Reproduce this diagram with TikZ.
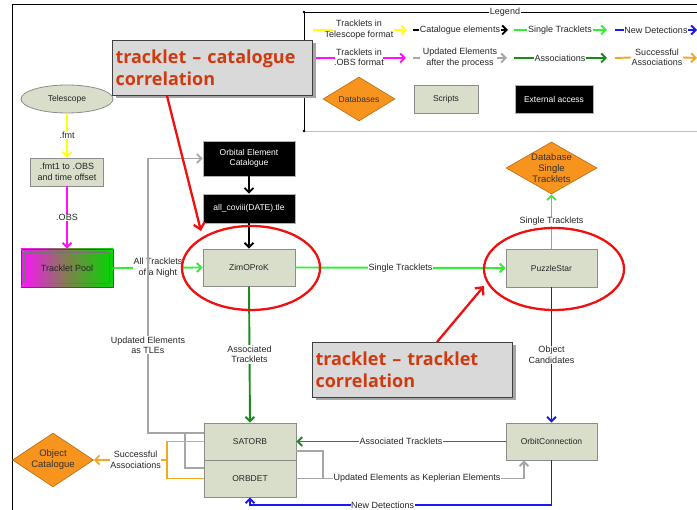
\documentclass[tikz,border=0pt]{standalone}
\usepackage{fontspec}
\setmainfont{Liberation Sans}
\newfontfamily\calloutfont{Open Sans}
\usetikzlibrary{arrows.meta,shapes.geometric,shadows}

\definecolor{nodefill}{HTML}{D9DECB}
\definecolor{nodeedge}{HTML}{8C8C8C}
\definecolor{ylw}{HTML}{FFFF10}
\definecolor{mgt}{HTML}{FF10FF}
\definecolor{lgrn}{HTML}{33EE33}
\definecolor{dgrn}{HTML}{1A8C1A}
\definecolor{blu}{HTML}{1A1AF0}
\definecolor{gry}{HTML}{A6A6A6}
\definecolor{orng}{HTML}{F5A623}
\definecolor{dbfill}{HTML}{F7941D}
\definecolor{dbedge}{HTML}{B86A10}
\definecolor{callred}{HTML}{CF3A10}
\definecolor{callfill}{HTML}{D9D9D9}
\definecolor{hlred}{HTML}{F01010}

\tikzset{
  lblfont/.style={font=\fontsize{9}{10.5}\selectfont},
  proc/.style={rectangle, draw=nodeedge, fill=nodefill, line width=0.8pt,
    minimum width=92pt, minimum height=37pt, inner sep=1pt, align=center,
    text=black!85, font=\fontsize{8.5}{10.5}\selectfont},
  blackbox/.style={rectangle, draw=gray!60, fill=black, text=white, line width=0.6pt,
    minimum width=92pt, inner sep=1pt, align=center, font=\fontsize{8.5}{10.5}\selectfont},
  dbase/.style={diamond, draw=dbedge, fill=dbfill, line width=0.6pt, inner sep=0pt},
  dbtext/.style={align=center, text=black!80, font=\fontsize{9.5}{11}\selectfont},
  lbl/.style={fill=white, inner sep=0.6pt, align=center, text=black!85, lblfont},
  lgtxt/.style={inner sep=0.5pt, align=center, text=black!85, lblfont},
  con/.style={line width=1.9pt},
  tip/.style={-{Straight Barb[length=4.5pt,width=9pt]}},
  callout/.style={rectangle, draw=black!75, fill=callfill, line width=1pt,
    drop shadow={shadow xshift=3pt, shadow yshift=-3pt, fill=gray!70, opacity=1},
    anchor=north west, text width=194pt, minimum height=55pt, inner sep=3pt,
    align=left, text=callred,
    font=\calloutfont\bfseries\fontsize{18}{22}\selectfont},
  redmark/.style={draw=hlred, line width=2.3pt},
  redarr/.style={draw=hlred, line width=2.3pt, -{Straight Barb[length=6pt,width=11pt]}},
}

\begin{document}
\begin{tikzpicture}[x=1pt,y=-1pt]
\useasboundingbox (0,0) rectangle (697,510);

% outer frame
\draw[black, line width=0.8pt] (12,510) -- (12,4) -- (697,4);

% ---------------- legend ----------------
\coordinate (lgA) at (304,131);
\coordinate (lgB) at (304,12);
\coordinate (lgC) at (697,12);
\coordinate (lgD) at (697,131);
\draw[black, line width=0.6pt] (lgA) -- (lgB) -- (lgC);
\draw[gray!50, line width=0.6pt] (lgA) -- (lgD);
\fill (lgA) circle (1.4pt);
\fill (lgB) circle (1.4pt);
\node[lgtxt, fill=white, inner sep=1pt] (lgtitle) at (505,12) {Legend};

% row 1
\node[lgtxt] (ly) at (359,29.5) {Tracklets in\\Telescope format};
\coordinate (ly1) at (313,30); \coordinate (ly2) at (333,30);
\coordinate (ly3) at (394,30); \coordinate (ly4) at (407,30);
\draw[con, ylw] (ly1) -- (ly2);
\draw[con, ylw, tip] (ly3) -- (ly4);

\node[lgtxt] (lk) at (460,30) {Catalogue elements};
\coordinate (lk1) at (413,30); \coordinate (lk4) at (508,30);
\draw[con, black] (lk1) -- (lk.west);
\draw[con, black, tip] (lk.east) -- (lk4);

\node[lgtxt] (lg) at (560,30) {Single Tracklets};
\coordinate (lg1) at (514,30); \coordinate (lg4) at (607,30);
\draw[con, lgrn] (lg1) -- (lg.west);
\draw[con, lgrn, tip] (lg.east) -- (lg4);

\node[lgtxt] (lb) at (656,30) {New Detections};
\coordinate (lb1) at (615,30); \coordinate (lb4) at (697,30);
\draw[con, blu] (lb1) -- (lb.west);
\draw[con, blu, tip] (lb.east) -- (lb4);

% row 2
\node[lgtxt] (lm) at (359,57.5) {Tracklets in\\.OBS format};
\coordinate (lm1) at (313,58); \coordinate (lm2) at (335,58);
\coordinate (lm3) at (383,58); \coordinate (lm4) at (406,58);
\draw[con, mgt] (lm1) -- (lm2);
\draw[con, mgt, tip] (lm3) -- (lm4);

\node[lgtxt] (lu) at (460,57.5) {Updated Elements\\after the process};
\coordinate (lu1) at (413,58); \coordinate (lu2) at (420,58);
\coordinate (lu3) at (497,58); \coordinate (lu4) at (507,58);
\draw[con, gry] (lu1) -- (lu2);
\draw[con, gry, tip] (lu3) -- (lu4);

\node[lgtxt] (la) at (560,58) {Associations};
\coordinate (la1) at (514,58); \coordinate (la4) at (607,58);
\draw[con, dgrn] (la1) -- (la.west);
\draw[con, dgrn, tip] (la.east) -- (la4);

\node[lgtxt] (ls) at (657,57.5) {Successful\\Associations};
\coordinate (ls1) at (615,58); \coordinate (ls4) at (697,58);
\draw[con, orng] (ls1) -- (ls.west);
\draw[con, orng, tip] (ls.east) -- (ls4);

% row 3
\node[dbase, minimum width=72pt, minimum height=44pt,
  label={[dbtext, font=\fontsize{8.5}{10}\selectfont]center:Databases}] (ldb) at (359,99) {};
\node[proc, minimum width=64pt, minimum height=28pt] (lsc) at (446,99) {Scripts};
\node[blackbox, minimum width=78pt, minimum height=28pt] (lext) at (554,99) {External access};

% ---------------- main nodes ----------------
\node[proc, ellipse, minimum width=92pt, minimum height=28pt] (tel) at (67,99) {Telescope};
\node[proc, minimum width=73pt, minimum height=28pt, font=\fontsize{9}{10.5}\selectfont] (conv) at (67,172) {.fmt1 to .OBS\\and time offset};
\node[rectangle, draw=black!70, line width=0.8pt, minimum width=92pt, minimum height=38pt,
  left color=mgt, right color=green!85!black, middle color=gray!80!olive,
  text=black!85, font=\fontsize{9}{10.5}\selectfont] (pool) at (67,268) {Tracklet Pool};
\draw[black!55, line width=0.6pt] ([shift={(4pt,-4pt)}]pool.north west) rectangle ([shift={(-4pt,4pt)}]pool.south east);
\draw[black!45, line width=0.5pt] (pool.north west) -- ([shift={(4pt,-4pt)}]pool.north west);
\draw[black!45, line width=0.5pt] (pool.south west) -- ([shift={(4pt,4pt)}]pool.south west);
\draw[black!45, line width=0.5pt] (pool.north east) -- ([shift={(-4pt,-4pt)}]pool.north east);
\draw[black!45, line width=0.5pt] (pool.south east) -- ([shift={(-4pt,4pt)}]pool.south east);

\node[blackbox, minimum height=35pt] (oec) at (249,158.5) {Orbital Element\\Catalogue};
\node[blackbox, minimum height=29pt] (allcov) at (249,208.5) {all\_coviii(DATE).tle};
\node[proc] (zim) at (249,267.5) {ZimOProK};

\node[proc, minimum width=91pt, minimum height=38pt] (puz) at (551.5,268) {PuzzleStar};
\node[dbase, minimum width=91pt, minimum height=52pt,
  label={[dbtext]center:Database\\Single\\Tracklets}] (dbst) at (551.5,168) {};

\node[proc] (satorb) at (250,441.5) {SATORB};
\node[proc] (orbdet) at (250,478.5) {ORBDET};
\node[proc, minimum width=91pt] (orbc) at (551.5,441.5) {OrbitConnection};
\node[dbase, minimum width=81pt, minimum height=54pt,
  label={[dbtext]center:Object\\Catalogue}] (objcat) at (53,460) {};

% ---------------- connectors ----------------
\draw[con, ylw, tip] (tel.south) -- node[lbl] {.fmt} (conv.north);
\draw[con, mgt, tip] (conv.south) -- node[lbl] {.OBS} (pool.north);
\draw[con, lgrn, tip] (pool.east) -- node[lbl] {All Tracklets\\of a Night} (zim.west);
\draw[con, black, tip] (oec.south) -- (allcov.north);
\draw[con, black, tip] (allcov.south) -- (zim.north);
\draw[con, lgrn, tip] (zim.east) -- node[lbl] {Single Tracklets} (puz.west);
\draw[con, lgrn, tip] (puz.north) -- node[lbl] {Single Tracklets} (dbst.south);
\draw[con, dgrn, tip] (zim.south) -- node[lbl] {Associated\\Tracklets} (satorb.north);
\draw[con, blu, tip] (puz.south) -- node[lbl] {Object\\Candidates} (orbc.north);
\draw[con, dgrn, tip] (orbc.west) -- node[lbl] {Associated Tracklets} (satorb.east);

% gray: updated elements as TLEs
\coordinate (tlc) at (148,433);
\draw[con, gry, tip] ([yshift=8.5pt]satorb.west) -- (tlc) -- (tlc |- oec.west)
  node[lbl, pos=0.32] {Updated Elements\\as TLEs} -- (oec.west);
\coordinate (tlj) at (185,433);
\draw[con, gry] ([yshift=10.5pt]orbdet.west) -- (tlj |- 0,468) -- (tlj);

% orange: successful associations
\coordinate (orj) at (167,460);
\draw[con, orng] (satorb.west) -- (orj |- satorb.west) -- (orj |- orbdet.west) -- (orbdet.west);
\draw[con, orng, tip] (orj) -- node[lbl, pos=0.43] {Successful\\Associations} (objcat.east);

% gray: updated elements as keplerian elements
\coordinate (kpj) at (323,478.5);
\draw[con, gry] ([yshift=-9.5pt]satorb.east) -- (kpj |- 0,451) -- (kpj);
\coordinate (kpc) at (524,478.5);
\draw[con, gry, tip] (orbdet.east) -- node[lbl, pos=0.53] {Updated Elements as Keplerian Elements} (kpc)
  -- ([xshift=-27.5pt]orbc.south);

% blue: new detections
\coordinate (ndr) at (551.5,505);
\coordinate (ndl) at (250,505);
\draw[con, blu, tip] (orbc.south) -- (ndr) -- node[lbl, pos=0.56] {New Detections} (ndl) -- (orbdet.south);

% ---------------- highlights ----------------
\draw[redmark] (251,268) ellipse [x radius=69pt, y radius=42pt];
\draw[redmark] (554,269) ellipse [x radius=70pt, y radius=41pt];

\node[callout] (call1) at (112,40) {tracklet – catalogue\\correlation};
\node[callout] (call2) at (312,342) {tracklet – tracklet\\correlation};

\coordinate (t1) at (201,231);
\coordinate (t2) at (484,286);
\draw[redarr] ([xshift=55pt]call1.south west) -- (t1);
\draw[redarr] ([xshift=125pt]call2.north west) -- (t2);

\end{tikzpicture}
\end{document}
